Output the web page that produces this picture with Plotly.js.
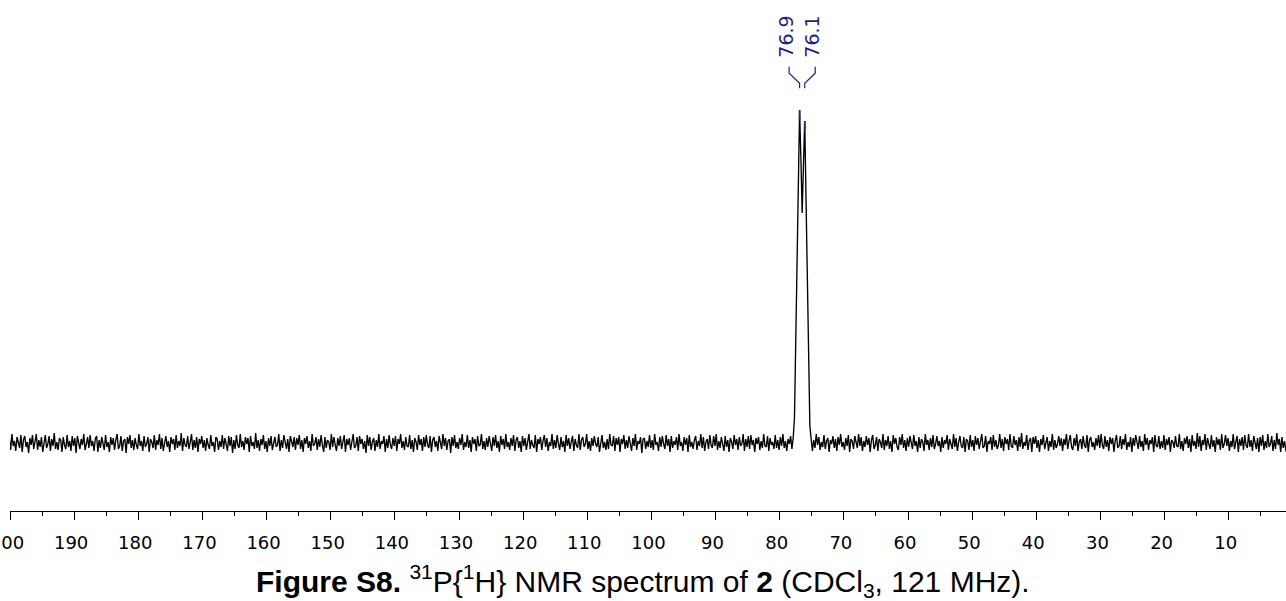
<!DOCTYPE html>
<html>
<head>
<meta charset="utf-8">
<script src="https://cdn.plot.ly/plotly-3.0.1.min.js"></script>
<style>
  html, body { margin: 0; padding: 0; background: #ffffff; }
  #chart { width: 1286px; height: 601px; }
</style>
</head>
<body>
<div id="chart"></div>
<script>
// 31P{1H} spectrum, sampled on a uniform ppm grid
const ppmStart = 200.1;
const ppmStep = 0.2;

// Intensities (arbitrary units) for each grid point, high ppm to low ppm
const intensity = [
  4,-7,9,-3,2,-8,6,-1,-5,8,-9,3,7,-4,1,-10,5,-2,8,-6,0,9,-7,3,-4,
  6,-9,2,8,-5,-1,7,-8,4,-3,10,-6,1,-7,5,3,-9,6,-2,-6,8,-4,2,-8,7,
  -3,5,-10,7,1,-6,4,-2,9,-7,-1,6,-5,8,-3,2,-8,4,7,-9,3,-5,6,-1,-7,
  8,-4,1,-9,6,-2,5,-7,3,9,-6,-3,7,-8,2,4,-10,6,-1,8,-5,3,-7,5,-2,
  -6,9,-3,2,-8,7,-4,-1,6,-9,4,1,-5,8,-7,3,-2,9,-6,5,-8,0,7,-4,2,
  -9,6,-1,4,-7,8,-5,2,-3,10,-8,5,-2,-4,7,-6,1,9,-7,3,-5,6,-9,4,-1,
  7,-5,3,-8,5,-2,-6,8,-3,1,-9,6,4,-7,2,-4,8,-6,5,-1,-8,7,-3,6,-10,
  3,-6,8,-2,-5,9,-4,2,-7,6,-1,5,-9,7,-3,1,-6,10,-5,3,-8,4,-2,8,-6,
  2,-9,5,-3,7,-7,1,6,-4,-2,9,-8,3,-5,8,-1,-6,4,-9,7,2,-4,6,-7,5,
  -2,8,-6,3,-9,5,-1,7,-5,2,-8,9,-3,-1,6,-7,4,-4,8,-2,-9,6,-5,3,1,
  -7,9,-4,6,-2,-8,5,-3,7,-6,1,8,-9,4,-2,5,-7,2,9,-5,-3,6,-8,7,-1,
  4,-6,2,-10,8,-3,6,-7,1,5,-8,3,-4,9,-6,2,-1,7,-9,4,-5,8,-2,-6,5,
  -3,7,-8,4,-1,9,-5,2,-7,6,-3,-4,8,-6,3,-9,5,1,-7,8,-2,4,-8,6,-4,
  8,-2,-5,7,-9,3,6,-4,2,-8,7,-1,-6,9,-3,5,-7,2,4,-10,6,-3,8,-5,1,
  -6,5,-2,9,-7,1,-4,8,-5,3,-9,6,-1,4,-8,7,-3,-2,9,-6,2,-7,5,-4,7,
  -1,-8,6,-3,8,-5,2,-9,7,-2,4,-6,9,-4,1,-7,5,-3,8,-8,3,6,-5,2,-9,
  7,-3,5,-7,1,9,-6,3,-2,-5,8,-9,4,-1,6,-7,2,8,-4,5,-8,1,-3,9,-6,
  3,-5,8,-1,-7,6,-4,2,-9,8,-3,5,-6,1,7,-8,4,-2,-5,9,-7,3,6,-4,-1,
  9,-6,2,-8,5,-3,7,-1,-4,6,-9,3,8,-5,1,-7,4,-6,9,-2,-3,7,-8,5,-2,
  6,-9,4,-1,8,-6,3,-5,7,-2,-8,5,-3,9,-7,2,-1,6,-10,4,5,-6,2,-4,8,
  -5,3,-7,9,-2,1,-8,6,-4,7,-1,-6,8,-3,4,-9,7,-5,2,-2,6,-7,9,-3,1,
  -8,6,-2,5,-9,8,-4,1,-6,3,7,-7,2,-3,9,-5,6,-8,1,4,-6,8,-2,-5,7,
  -3,9,-7,2,-5,6,-1,-8,7,-4,3,-9,5,1,-6,8,-2,4,-7,6,-3,-1,9,-8,4,
  -4,7,-6,8,-2,3,-9,5,-1,6,-7,2,-5,9,-3,-4,7,-8,5,-2,1,-6,8,-5,3,
  -7,6,-3,9,-5,2,-8,4,-1,7,-6,5,25,96,168,245,333,285,230,278,322,244,166,88,17,
  4,-8,3,-5,9,-2,6,-7,1,-4,8,-6,2,5,-9,3,-1,7,-5,4,-8,6,-2,9,-4,
  1,-7,5,-3,8,-9,4,2,-6,7,-1,-5,9,-3,6,-8,2,-4,7,-2,5,-9,3,8,-6,
  -2,6,-8,4,1,-5,9,-7,3,-3,7,-6,2,-9,8,-1,5,-4,-7,6,-2,9,-5,3,-8,
  5,-4,7,-1,-6,8,-3,2,-9,6,-5,4,1,-8,9,-2,3,-7,5,-4,8,-6,-1,7,-3,
  2,-9,6,-5,3,-1,8,-7,4,-2,-6,9,-4,5,-8,1,7,-3,-5,6,-9,4,2,-7,8,
  -4,3,-8,7,-2,5,-6,1,9,-5,-3,7,-9,2,-1,6,-7,8,-4,3,-6,-2,9,-5,4,
  -8,6,-1,4,-7,9,-3,-5,7,-2,3,-8,6,-4,10,-6,1,-3,8,-7,2,5,-9,6,-1,
  7,-5,3,-9,4,-2,8,-6,1,6,-8,2,-4,9,-7,3,-5,-1,7,-3,5,-8,4,-2,9,
  -6,2,8,-4,-7,5,-3,9,-8,1,4,-6,7,-2,-5,8,-9,3,6,-4,1,-7,5,-3,8,
  -5,9,-2,-6,7,-4,3,-8,6,-1,5,-9,2,8,-5,-3,7,-6,4,-2,9,-7,1,-4,6,
  -9,5,-3,8,-1,-6,7,-4,2,-8,9,-2,5,-7,3,-1,6,-9,8,-3,-4,7,-6,2,-5,
  8,-7,4,-2,6,-9,3,1,-5,7,-3,-4,9,-6,2,-8,5,-1,7,-5,4,-9,8,-3,2,
  -6,10,-4,7,-8,3,-2,9,-7,5,-1,-6,8,-4,3,-9,6,-2,4,-7,9,-5,-1,8,-3,
  5,-8,2,-4,9,-6,1,7,-9,4,-3,6,-7,8,-2,-5,9,-4,3,-8,7,-1,-6,5,-9,
  6,-3,8,-7,2,-5,9,-4,-1,7,-8,3,-6,10,-2,4,-9,6,-5,2,-7,-11
];

// Picked peaks (ppm)
const peakLabels = [76.9, 76.1];

// Axis ticks
const tickValues = [200, 190, 180, 170, 160, 150, 140, 130, 120, 110, 100, 90, 80, 70, 60, 50, 40, 30, 20, 10];
const tickLabels = ["200", "190", "180", "170", "160", "150", "140", "130", "120", "110", "100", "90", "80", "70", "60", "50", "40", "30", "20", "10"];

const ppm = intensity.map((_, i) => +(ppmStart - i * ppmStep).toFixed(2));
const peakHeight = p => intensity[ppm.findIndex(v => Math.abs(v - p) < 1e-6)];

const labelColor = "#1c1c8c";
const center = peakLabels.reduce((a, b) => a + b, 0) / peakLabels.length;
const spread = 2.03;
const labelX = peakLabels.map((_, i) => center + spread * (1 - 2 * i / (peakLabels.length - 1)));

const shapes = [];
const annotations = [];
peakLabels.forEach((p, i) => {
  const h = peakHeight(p);
  // coloured cap on the peak top
  shapes.push({
    type: "line", xref: "x", yref: "y",
    x0: p, x1: p, y0: h, y1: h - 10,
    line: { color: labelColor, width: 1.6 }
  });
  // connector from label to peak
  const lx = labelX[i];
  shapes.push({
    type: "path", xref: "x", yref: "y",
    path: `M ${lx} 376.3 L ${lx} 369.7 L ${p} 359.7 L ${p} 354.7`,
    line: { color: labelColor, width: 1.2 }
  });
  annotations.push({
    xref: "x", yref: "y", x: lx, y: 383,
    xanchor: "center", yanchor: "bottom", xshift: -3.5,
    text: p.toFixed(1), textangle: -90, showarrow: false,
    font: { family: "DejaVu Sans, Verdana, sans-serif", size: 19, color: labelColor }
  });
});

annotations.push({
  xref: "paper", yref: "paper", x: (643 - 10) / 1276, y: (511 - 581) / 511,
  xanchor: "center", yanchor: "middle", showarrow: false,
  text: "<b>Figure S8.</b> <sup>31</sup>P{<sup>1</sup>H} NMR spectrum of <b>2</b> (CDCl<sub>3</sub>, 121 MHz).",
  font: { family: "Liberation Sans, Arial, sans-serif", size: 30, color: "#000000" }
});

const trace = {
  x: ppm, y: intensity, type: "scatter", mode: "lines",
  line: { color: "#000000", width: 1.35 },
  hoverinfo: "skip"
};

const layout = {
  width: 1286, height: 601,
  margin: { l: 10, r: 0, t: 0, b: 90 },
  paper_bgcolor: "#ffffff", plot_bgcolor: "#ffffff",
  showlegend: false,
  xaxis: {
    range: [200, 1.07], autorange: false,
    showgrid: false, zeroline: false,
    showline: true, linecolor: "#000000", linewidth: 1,
    ticks: "outside", ticklen: 8, tickwidth: 1, tickcolor: "#000000",
    tickmode: "array", tickvals: tickValues, ticktext: tickLabels,
    ticklabeloverflow: "allow", ticklabelstandoff: 7, ticklabelshift: 3,
    minor: { dtick: 5, tick0: 0, ticks: "outside", ticklen: 4, tickwidth: 1, tickcolor: "#000000", showgrid: false },
    tickfont: { family: "DejaVu Sans, Verdana, sans-serif", size: 18, color: "#000000" }
  },
  yaxis: { range: [-68, 443], autorange: false, visible: false, showgrid: false, zeroline: false },
  shapes: shapes,
  annotations: annotations
};

Plotly.newPlot("chart", [trace], layout, { displayModeBar: false, staticPlot: true });
</script>
</body>
</html>
